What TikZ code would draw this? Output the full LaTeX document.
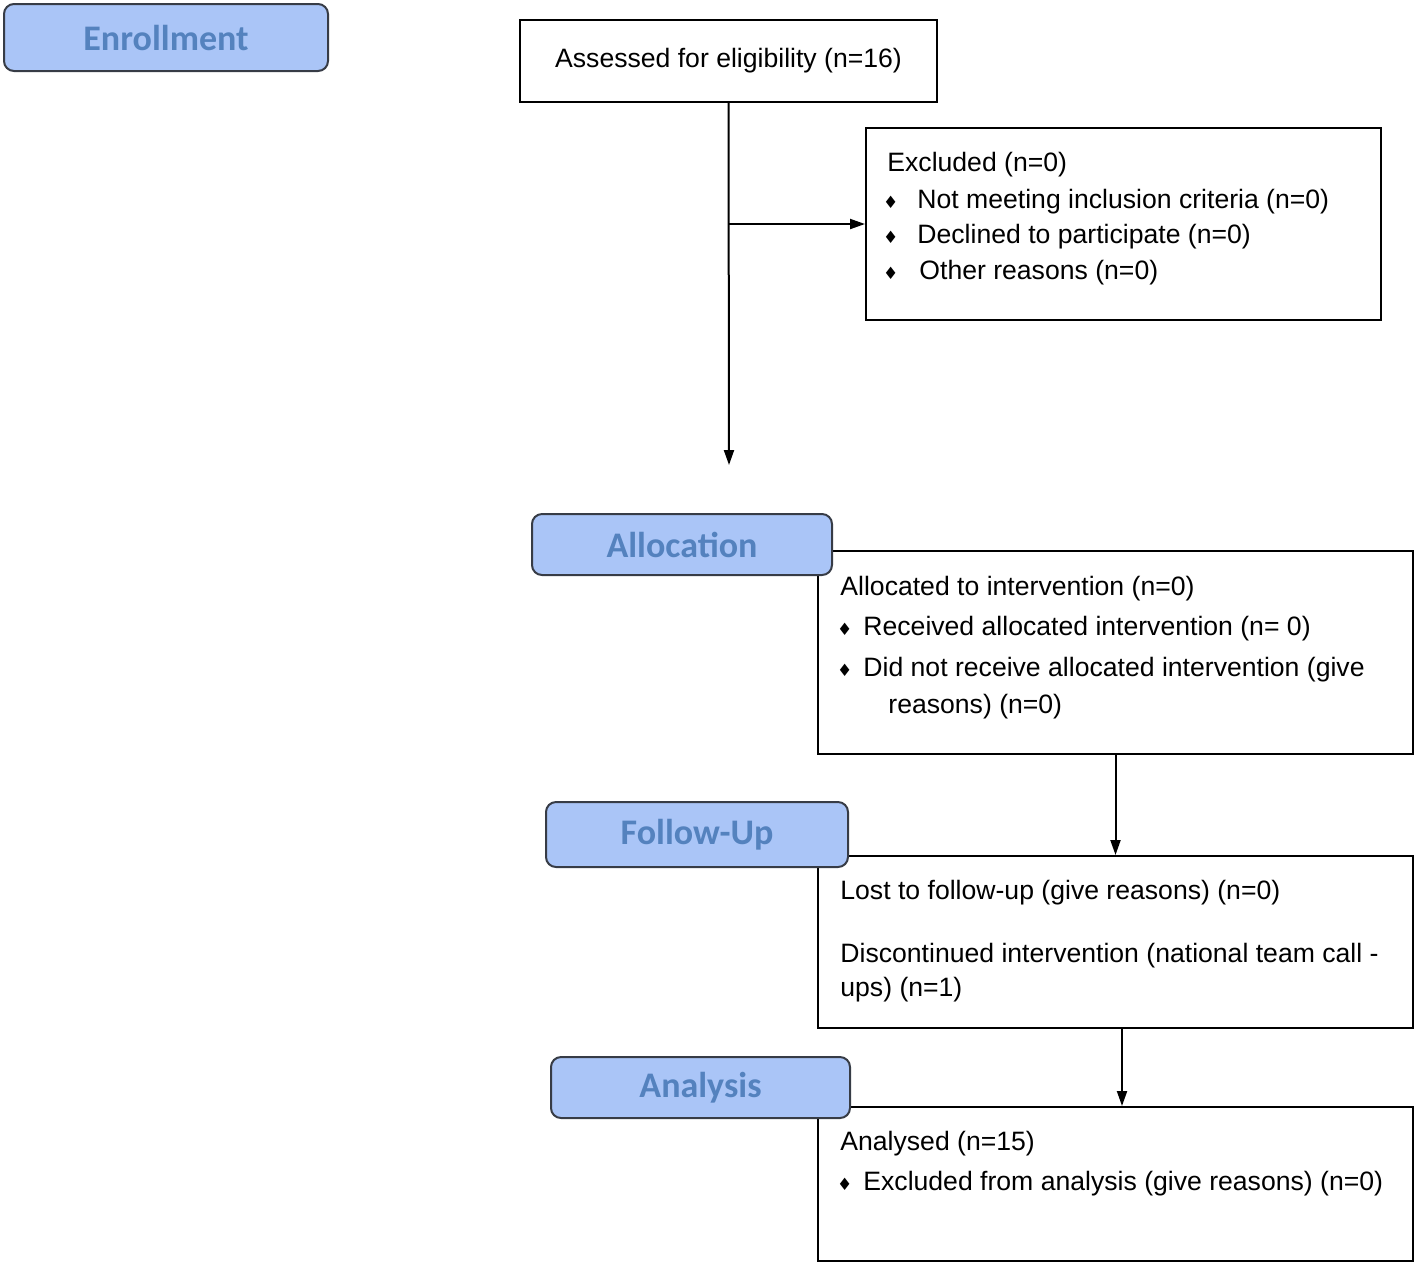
\documentclass[tikz,border=0pt]{standalone}
\usepackage{fontspec}
\setmainfont{Liberation Sans}
\newfontfamily\hdrfont{Carlito}
\newfontfamily\dvfont{DejaVu Sans}
\usetikzlibrary{arrows.meta,fit}
\definecolor{hdrfill}{RGB}{170,197,247}
\definecolor{hdrtext}{RGB}{84,130,190}
\definecolor{hdrline}{RGB}{55,60,70}
\newcommand\cbullet[1]{\llap{{\dvfont\fontsize{8.5}{8.5}\selectfont ♦}\hspace{#1}}}
\begin{document}
\begin{tikzpicture}[x=0.5pt,y=-0.5pt,
  hdr/.style={draw=hdrline, line width=1pt, rounded corners=5pt, fill=hdrfill, text=hdrtext,
    font=\hdrfont\bfseries\fontsize{18}{20}\selectfont, inner sep=0pt, anchor=center},
  box/.style={draw=black, line width=1pt, inner sep=0pt, anchor=center, font=\fontsize{13.3}{15}\selectfont},
  txt/.style={anchor=base west, inner sep=0pt, font=\fontsize{13.3}{15}\selectfont},
  arr/.style={line width=1pt, -{Triangle[length=7.5pt,width=5pt]}}]
\useasboundingbox (0,0) rectangle (1417,1266);

% content boxes
\node[box, minimum width=208.5pt, minimum height=41pt] (assess) at (728.5,61) {Assessed for eligibility (n=16)};
\node[box, fit={(866,128) (1381,320)}] (excl) {};
\node[box, fit={(818,551) (1413,754)}] (alloc) {};
\node[box, fit={(818,856) (1413,1028)}] (lost) {};
\node[box, fit={(818,1107) (1413,1261)}] (anal) {};

% texts
\node[txt] (e0) at (887,171) {Excluded (n=0)};
\node[txt] (e1) at (917,208) {\cbullet{9.5pt}Not meeting inclusion criteria (n=0)};
\node[txt] (e2) at (917,243) {\cbullet{9.5pt}Declined to participate (n=0)};
\node[txt] (e3) at (919,279) {\cbullet{10.5pt}Other reasons (n=0)};

\node[txt] (a0) at (840,595) {Allocated to intervention (n=0)};
\node[txt] (a1) at (863,635) {\cbullet{5.5pt}Received allocated intervention (n= 0)};
\node[txt] (a2) at (863,676) {\cbullet{5.5pt}Did not receive allocated intervention (give};
\node[txt] (a3) at (888,713) {reasons) (n=0)};

\node[txt] (l0) at (840,899) {Lost to follow-up (give reasons) (n=0)};
\node[txt] (l1) at (840,962) {Discontinued intervention (national team call -};
\node[txt] (l2) at (840,996) {ups) (n=1)};

\node[txt] (n0) at (840,1150) {Analysed (n=15)};
\node[txt] (n1) at (863,1190) {\cbullet{5.5pt}Excluded from analysis (give reasons) (n=0)};

% connectors
\coordinate (down) at (729,465);
\coordinate (br) at (729,224);
\draw[arr] (assess.south) -- (down);
\draw[arr] (br) -- (br -| excl.west);
\draw[arr] (alloc.south) -- (lost.north);
\coordinate (c2) at (1122,0);
\draw[arr] (lost.south -| c2) -- (anal.north -| c2);

% stage headers
\node[hdr, minimum width=162pt, minimum height=33.5pt] (h1) at (166,37.5) {Enrollment};
\node[hdr, minimum width=150pt, minimum height=30.5pt] (h2) at (682,544.5) {Allocation};
\node[hdr, minimum width=151pt, minimum height=32.5pt] (h3) at (697,834.5) {Follow-Up};
\node[hdr, minimum width=149.5pt, minimum height=30.5pt] (h4) at (700.5,1087.5) {Analysis};
\end{tikzpicture}
\end{document}
